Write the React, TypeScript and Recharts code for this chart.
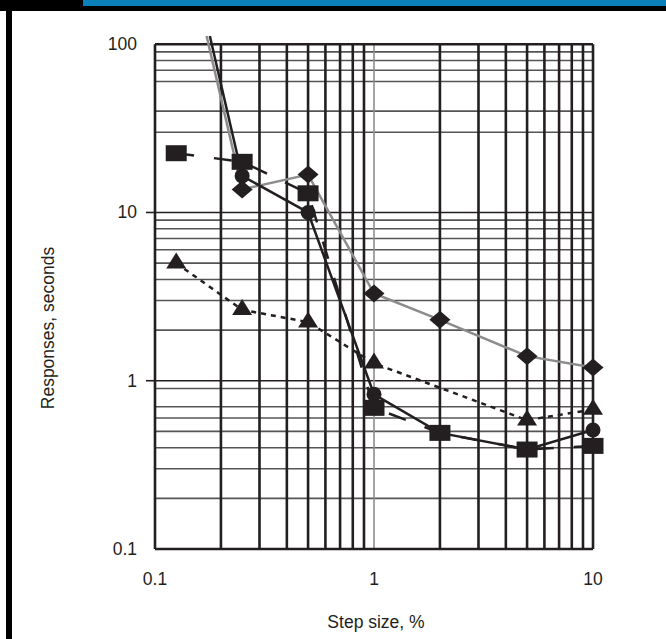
import React from 'react';
import { LineChart, Line, XAxis, YAxis, ReferenceLine, Label } from 'recharts';

// print-style colours
const INK = '#231f20';
const GRAY = '#8c8c8c';
const BLUE = '#0b7fb7';
const FONT = "'Liberation Sans', Arial, sans-serif";
const FS = 17.5;

// step size (%) and response (s) for each series
const STEP_SQUARE = [0.125, 0.25, 0.5, 1, 2, 5, 10];
const RESP_SQUARE = [22.5, 20, 13, 0.69, 0.49, 0.39, 0.41];

const STEP_CIRCLE = [0.178, 0.25, 0.5, 1, 2, 5, 10];
const RESP_CIRCLE = [112, 16.5, 10, 0.83, 0.49, 0.39, 0.51];

const STEP_DIAMOND = [0.172, 0.25, 0.5, 1, 2, 5, 10];
const RESP_DIAMOND = [112, 13.7, 16.8, 3.3, 2.3, 1.4, 1.2];

const STEP_TRIANGLE = [0.125, 0.25, 0.5, 1, 5, 10];
const RESP_TRIANGLE = [5.0, 2.64, 2.23, 1.27, 0.583, 0.675];

// axes
const X_TICKS = [0.1, 1, 10];
const Y_TICKS = [0.1, 1, 10, 100];
const X_GRID = [0.2, 0.3, 0.4, 0.5, 0.6, 0.7, 0.8, 0.9, 2, 3, 4, 5, 6, 7, 8, 9];
const Y_GRID = [0.2, 0.3, 0.4, 0.5, 0.6, 0.7, 0.9, 2, 3, 4, 5, 6, 7, 8, 9, 30, 40, 60, 70, 80, 90];

const toPoints = (xs: number[], ys: number[]) => xs.map((x, i) => ({ x, y: ys[i] }));

const squares = toPoints(STEP_SQUARE, RESP_SQUARE);
const circles = toPoints(STEP_CIRCLE, RESP_CIRCLE);
const diamonds = toPoints(STEP_DIAMOND, RESP_DIAMOND);
const triangles = toPoints(STEP_TRIANGLE, RESP_TRIANGLE);

// points above the frame only carry the line, no marker
const offChart = (p: any) => p.payload && p.payload.y > 100;

const SquareDot = (p: any) =>
    offChart(p) ? <g key={`sq-${p.index}`} /> : (
        <rect key={`sq-${p.index}`} x={p.cx - 10.5} y={p.cy - 8} width={21} height={16} fill={INK} />
    );

const CircleDot = (p: any) =>
    offChart(p) ? <g key={`ci-${p.index}`} /> : (
        <circle key={`ci-${p.index}`} cx={p.cx} cy={p.cy} r={7.5} fill={INK} />
    );

const DiamondDot = (p: any) =>
    offChart(p) ? <g key={`di-${p.index}`} /> : (
        <polygon
            key={`di-${p.index}`}
            points={`${p.cx},${p.cy - 9} ${p.cx + 10.5},${p.cy} ${p.cx},${p.cy + 9} ${p.cx - 10.5},${p.cy}`}
            fill={INK}
        />
    );

// point sits on the centroid, like the original
const TriangleDot = (p: any) => (
    <polygon
        key={`tr-${p.index}`}
        points={`${p.cx},${p.cy - 10.7} ${p.cx + 10},${p.cy + 5.3} ${p.cx - 10},${p.cy + 5.3}`}
        fill={INK}
    />
);

const YTick = (props: any) => {
    const { x, y, payload } = props;
    const v = payload.value;
    return (
        <g>
            <text x={x - 18} y={y} textAnchor="end" dominantBaseline="central" fill={INK} fontSize={FS} fontFamily={FONT}>
                {String(v)}
            </text>
            {(v === 1 || v === 10) && <line x1={x - 9} x2={x} y1={y} y2={y} stroke={INK} strokeWidth={1.6} />}
        </g>
    );
};

const XTick = (props: any) => {
    const { x, y, payload } = props;
    return (
        <text x={x} y={y + 30} textAnchor="middle" dominantBaseline="central" fill={INK} fontSize={FS} fontFamily={FONT}>
            {String(payload.value)}
        </text>
    );
};

export default function App() {
    return (
        <div style={{ position: 'relative', width: 666, height: 639, background: '#fff', overflow: 'hidden' }}>
            <style>{'body{margin:0}'}</style>
            {/* page furniture */}
            <div style={{ position: 'absolute', left: 83, top: 0, width: 583, height: 6, background: BLUE }} />
            <div style={{ position: 'absolute', left: 83, top: 6, width: 583, height: 5, background: '#000' }} />
            <div style={{ position: 'absolute', left: 0, top: 0, width: 83, height: 11, background: '#000' }} />
            <div style={{ position: 'absolute', left: 6, top: 0, width: 6, height: 639, background: '#000' }} />

            <LineChart
                width={666}
                height={639}
                margin={{ top: 34, right: 73, bottom: 50, left: 95 }}
                style={{ position: 'absolute', left: 0, top: 0 }}
            >
                <XAxis
                    dataKey="x"
                    type="number"
                    scale="log"
                    domain={[0.1, 10]}
                    ticks={X_TICKS}
                    axisLine={false}
                    tickLine={false}
                    tickSize={0}
                    tickMargin={0}
                    height={40}
                    tick={<XTick />}
                >
                    <Label
                        content={() => (
                            <text x={376} y={622} textAnchor="middle" dominantBaseline="central" fill={INK} fontSize={FS} fontFamily={FONT}>
                                Step size, %
                            </text>
                        )}
                    />
                </XAxis>
                <YAxis
                    dataKey="y"
                    type="number"
                    scale="log"
                    domain={[0.1, 115]}
                    ticks={Y_TICKS}
                    axisLine={false}
                    tickLine={false}
                    tickSize={0}
                    tickMargin={0}
                    width={60}
                    tick={<YTick />}
                >
                    <Label
                        content={() => (
                            <text
                                x={48}
                                y={328}
                                transform="rotate(-90 48 328)"
                                textAnchor="middle"
                                dominantBaseline="central"
                                fill={INK}
                                fontSize={FS}
                                fontFamily={FONT}
                            >
                                Responses, seconds
                            </text>
                        )}
                    />
                </YAxis>

                {/* grid */}
                {Y_GRID.map(v => (
                    <ReferenceLine key={`h-${v}`} y={v} stroke="#555" strokeWidth={1.6} />
                ))}
                <ReferenceLine y={1} stroke={INK} strokeWidth={1.6} />
                <ReferenceLine y={10} stroke={INK} strokeWidth={1.6} />
                {X_GRID.map(v => (
                    <ReferenceLine
                        key={`v-${v}`}
                        segment={[{ x: v, y: 0.1 }, { x: v, y: 100 }]}
                        stroke={INK}
                        strokeWidth={2.6}
                    />
                ))}
                <ReferenceLine segment={[{ x: 1, y: 0.1 }, { x: 1, y: 100 }]} stroke={GRAY} strokeWidth={1.6} />

                {/* frame */}
                <ReferenceLine segment={[{ x: 0.1, y: 100 }, { x: 10, y: 100 }]} stroke={INK} strokeWidth={2.6} />
                <ReferenceLine segment={[{ x: 0.1, y: 0.1 }, { x: 10, y: 0.1 }]} stroke={INK} strokeWidth={2.6} />
                <ReferenceLine segment={[{ x: 0.1, y: 0.1 }, { x: 0.1, y: 100 }]} stroke={INK} strokeWidth={2.6} />
                <ReferenceLine segment={[{ x: 10, y: 0.1 }, { x: 10, y: 100 }]} stroke={INK} strokeWidth={2.6} />

                {/* series */}
                <Line data={diamonds} dataKey="y" stroke={GRAY} strokeWidth={2.5} dot={DiamondDot} activeDot={false} isAnimationActive={false} />
                <Line data={triangles} dataKey="y" stroke={INK} strokeWidth={2.5} strokeDasharray="5 5" dot={TriangleDot} activeDot={false} isAnimationActive={false} />
                <Line data={circles} dataKey="y" stroke={INK} strokeWidth={2.5} dot={CircleDot} activeDot={false} isAnimationActive={false} />
                <Line data={squares} dataKey="y" stroke={INK} strokeWidth={2.5} strokeDasharray="18 20" dot={SquareDot} activeDot={false} isAnimationActive={false} />
            </LineChart>
        </div>
    );
}
